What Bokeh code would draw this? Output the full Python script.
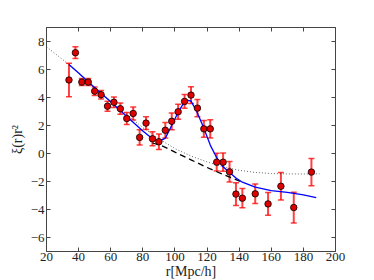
from bokeh.plotting import figure
from bokeh.models import (ColumnDataSource, Whisker, TeeHead, LinearAxis, FixedTicker, Range1d,
                          CustomLabelingPolicy)
from bokeh.embed import file_html
from bokeh.resources import INLINE

# data points
r_data = [34, 38, 42, 46, 50, 54, 58, 62, 66, 70, 74, 78, 82, 86, 90, 94, 98, 102, 106, 110,
          114, 118, 122, 126, 130, 134, 138, 142, 150, 158, 166, 174, 185]
xi_data = [5.25, 7.2, 5.1, 5.1, 4.45, 4.2, 3.38, 3.66, 3.2, 2.5, 2.86, 1.15, 2.17, 1.05, 0.84, 1.66,
           2.3, 2.98, 3.72, 4.17, 3.24, 1.76, 1.76, -0.62, -0.62, -1.31, -2.9, -3.19, -2.88, -3.6,
           -2.34, -3.86, -1.33]
err_data = [1.2, 0.42, 0.25, 0.25, 0.3, 0.3, 0.36, 0.38, 0.4, 0.42, 0.46, 0.55, 0.45, 0.5, 0.55, 0.55,
            0.6, 0.54, 0.49, 0.6, 0.62, 0.6, 0.65, 0.63, 0.65, 0.73, 0.81, 0.69, 0.7, 0.81,
            0.98, 1.1, 0.98]

# best-fit model (blue)
r_model = [34, 40, 50, 60, 70, 80, 86, 90, 94, 98, 102, 106, 108, 110, 114, 118, 122, 126, 130,
           134, 138, 142, 150, 160, 170, 180, 188]
xi_model = [6.36, 5.75, 4.7, 3.7, 2.65, 1.6, 1.05, 0.85, 1.1, 2.0, 2.95, 3.7, 3.8, 3.75, 2.9, 1.8,
            0.6, -0.3, -0.95, -1.35, -1.75, -2.05, -2.4, -2.65, -2.78, -2.95, -3.15]

# no-wiggle model (dashed)
r_nw = [86, 92, 100, 110, 120, 130, 142]
xi_nw = [0.75, 0.55, 0.1, -0.45, -1.0, -1.5, -2.05]

# dotted model
r_dot = [20, 30, 40, 50, 60, 70, 80, 90, 100, 110, 120, 130, 140, 150, 160, 170, 180, 190]
xi_dot = [7.62, 6.72, 5.75, 4.75, 3.75, 2.78, 1.85, 1.05, 0.35, -0.18, -0.6, -0.95, -1.2, -1.35,
          -1.43, -1.46, -1.46, -1.45]

x_ticks = [20, 40, 60, 80, 100, 120, 140, 160, 180, 200]
y_ticks = [-6, -4, -2, 0, 2, 4, 6, 8]
y_tick_labels = {-6: "\u22126", -4: "\u22124", -2: "\u22122", 0: "0", 2: "2", 4: "4", 6: "6", 8: "8"}

FONT = "Liberation Serif"
AX = "#444444"

p = figure(frame_width=289, frame_height=224, output_backend="svg", toolbar_location=None,
           x_range=Range1d(20, 200), y_range=Range1d(-7, 9),
           min_border_left=46, min_border_top=27, min_border_right=30, min_border_bottom=0,
           x_axis_label="r[Mpc/h]", y_axis_label="\u03be(r)r\u00b2")
p.grid.visible = False
p.outline_line_color = AX
p.background_fill_color = "white"
p.border_fill_color = "white"

no_labels = CustomLabelingPolicy(code="""
    const all = [...indices]
    for (const i of all) indices.unset(i)
    return indices
""")

def style(ax, ticks, labels=True):
    ax.ticker = FixedTicker(ticks=ticks)
    ax.major_tick_in = 4
    ax.major_tick_out = 0
    ax.minor_tick_line_color = None
    ax.axis_line_color = AX
    ax.major_tick_line_color = AX
    ax.major_label_text_font = FONT
    ax.major_label_text_font_size = "13px"
    ax.major_label_text_color = "#222222"
    ax.major_label_standoff = 1
    ax.axis_label_text_font = FONT
    ax.axis_label_text_font_style = "normal"
    ax.axis_label_text_font_size = "14px"
    ax.axis_label_text_color = "#222222"
    ax.axis_label_standoff = 0
    if not labels:
        ax.major_label_policy = no_labels
        ax.major_label_standoff = 0

style(p.xaxis[0], x_ticks)
style(p.yaxis[0], y_ticks)
p.yaxis[0].major_label_overrides = y_tick_labels
p.yaxis[0].major_label_standoff = 2
p.yaxis[0].axis_label_standoff = 3

top = LinearAxis()
style(top, x_ticks, labels=False)
p.add_layout(top, "above")
right = LinearAxis()
style(right, y_ticks, labels=False)
p.add_layout(right, "right")

p.line(r_dot, xi_dot, line_color="black", line_dash="1 2", line_width=1, line_alpha=0.6)
p.line(r_nw, xi_nw, line_color="black", line_dash="6 4", line_width=1.3)
p.line(r_model, xi_model, line_color="blue", line_width=1.3)

lower = [y - e for y, e in zip(xi_data, err_data)]
upper = [y + e for y, e in zip(xi_data, err_data)]
src = ColumnDataSource(dict(x=r_data, y=xi_data, lower=lower, upper=upper))
w = Whisker(source=src, base="x", lower="lower", upper="upper", dimension="height",
            line_color="red", line_width=2, line_alpha=0.75,
            upper_head=TeeHead(size=6, line_color="red", line_width=1.5, line_alpha=0.75),
            lower_head=TeeHead(size=6, line_color="red", line_width=1.5, line_alpha=0.75))
p.add_layout(w)
p.scatter("x", "y", source=src, size=6.5, fill_color="#e00000", line_color="black", line_width=0.8)

open("out.html", "w").write(file_html(p, INLINE))
